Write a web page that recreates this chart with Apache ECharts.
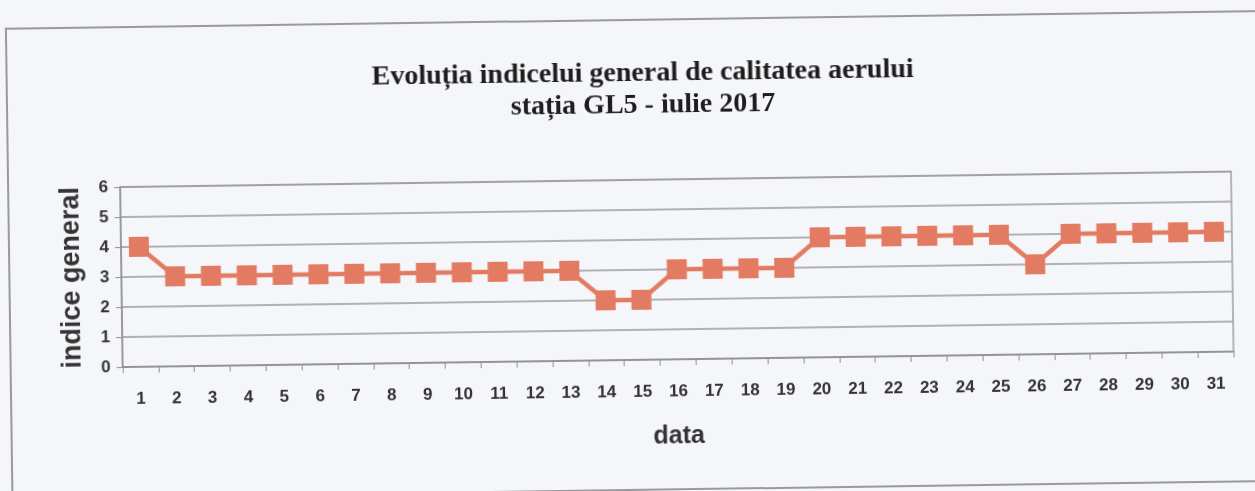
<!DOCTYPE html>
<html lang="ro">
<head>
<meta charset="UTF-8">
<title>Evoluția indicelui general de calitatea aerului</title>
<script src="https://cdn.jsdelivr.net/npm/echarts@6/dist/echarts.min.js"></script>
<style>
    html, body { margin: 0; padding: 0; background: #f4f6f9; overflow: hidden; }
    #wrap { position: absolute; left: 0; top: 0; width: 1255px; height: 491px; transform: rotate(-0.8deg); }
    #frame { position: absolute; left: 8px; top: 19px; width: 1260px; height: 468px; border: 2px solid #9a9a9a; border-right: none; }
    #main { position: absolute; left: 0; top: 0; width: 1255px; height: 491px; }
</style>
</head>
<body>
<div id="wrap">
    <div id="frame"></div>
    <div id="main"></div>
</div>
<script>
var days = ['1','2','3','4','5','6','7','8','9','10','11','12','13','14','15','16',
    '17','18','19','20','21','22','23','24','25','26','27','28','29','30','31'];
var indiceGeneral = [4,3,3,3,3,3,3,3,3,3,3,3,3,2,2,3,3,3,3,4,4,4,4,4,4,3,4,4,4,4,4];

var myChart = echarts.init(document.getElementById('main'));

var option = {
    backgroundColor: 'transparent',
    title: {
        text: 'Evoluția indicelui general de calitatea aerului\nstația GL5 - iulie 2017',
        left: 640,
        textAlign: 'center',
        top: 53,
        textStyle: {
            fontFamily: 'Liberation Serif',
            fontWeight: 'bold',
            fontSize: 28,
            lineHeight: 32,
            color: '#1e1e1e'
        }
    },
    grid: {
        left: 121,
        right: 23,
        top: 180,
        height: 180,
        show: true,
        borderColor: '#a0a0a0',
        borderWidth: 1.5
    },
    xAxis: {
        type: 'category',
        data: days,
        boundaryGap: true,
        name: 'data',
        nameLocation: 'middle',
        nameGap: 65,
        nameTextStyle: { fontFamily: 'Liberation Sans', fontWeight: 'bold', fontSize: 25, color: '#333' },
        axisLine: { lineStyle: { color: '#909090', width: 1.5 } },
        axisTick: { show: true, length: 6, lineStyle: { color: '#909090' } },
        axisLabel: { margin: 24, fontFamily: 'Liberation Sans', fontWeight: 'bold', fontSize: 17, color: '#333' }
    },
    yAxis: {
        type: 'value',
        min: 0,
        max: 6,
        interval: 1,
        name: 'indice general',
        nameLocation: 'middle',
        nameGap: 36,
        nameTextStyle: { fontFamily: 'Liberation Sans', fontWeight: 'bold', fontSize: 27, color: '#333' },
        axisLine: { show: true, lineStyle: { color: '#909090', width: 1.5 } },
        axisTick: { show: true, length: 6, lineStyle: { color: '#909090' } },
        axisLabel: { margin: 12, fontFamily: 'Liberation Sans', fontWeight: 'bold', fontSize: 17, color: '#333' },
        splitLine: { lineStyle: { color: '#9a9a9a', width: 1.5 } }
    },
    series: [{
        name: 'indice general',
        type: 'line',
        data: indiceGeneral,
        symbol: 'rect',
        symbolSize: 20,
        itemStyle: { color: '#e37b62' },
        lineStyle: { color: '#e37b62', width: 4.5 },
        animation: false
    }]
};

myChart.setOption(option);
</script>
</body>
</html>
